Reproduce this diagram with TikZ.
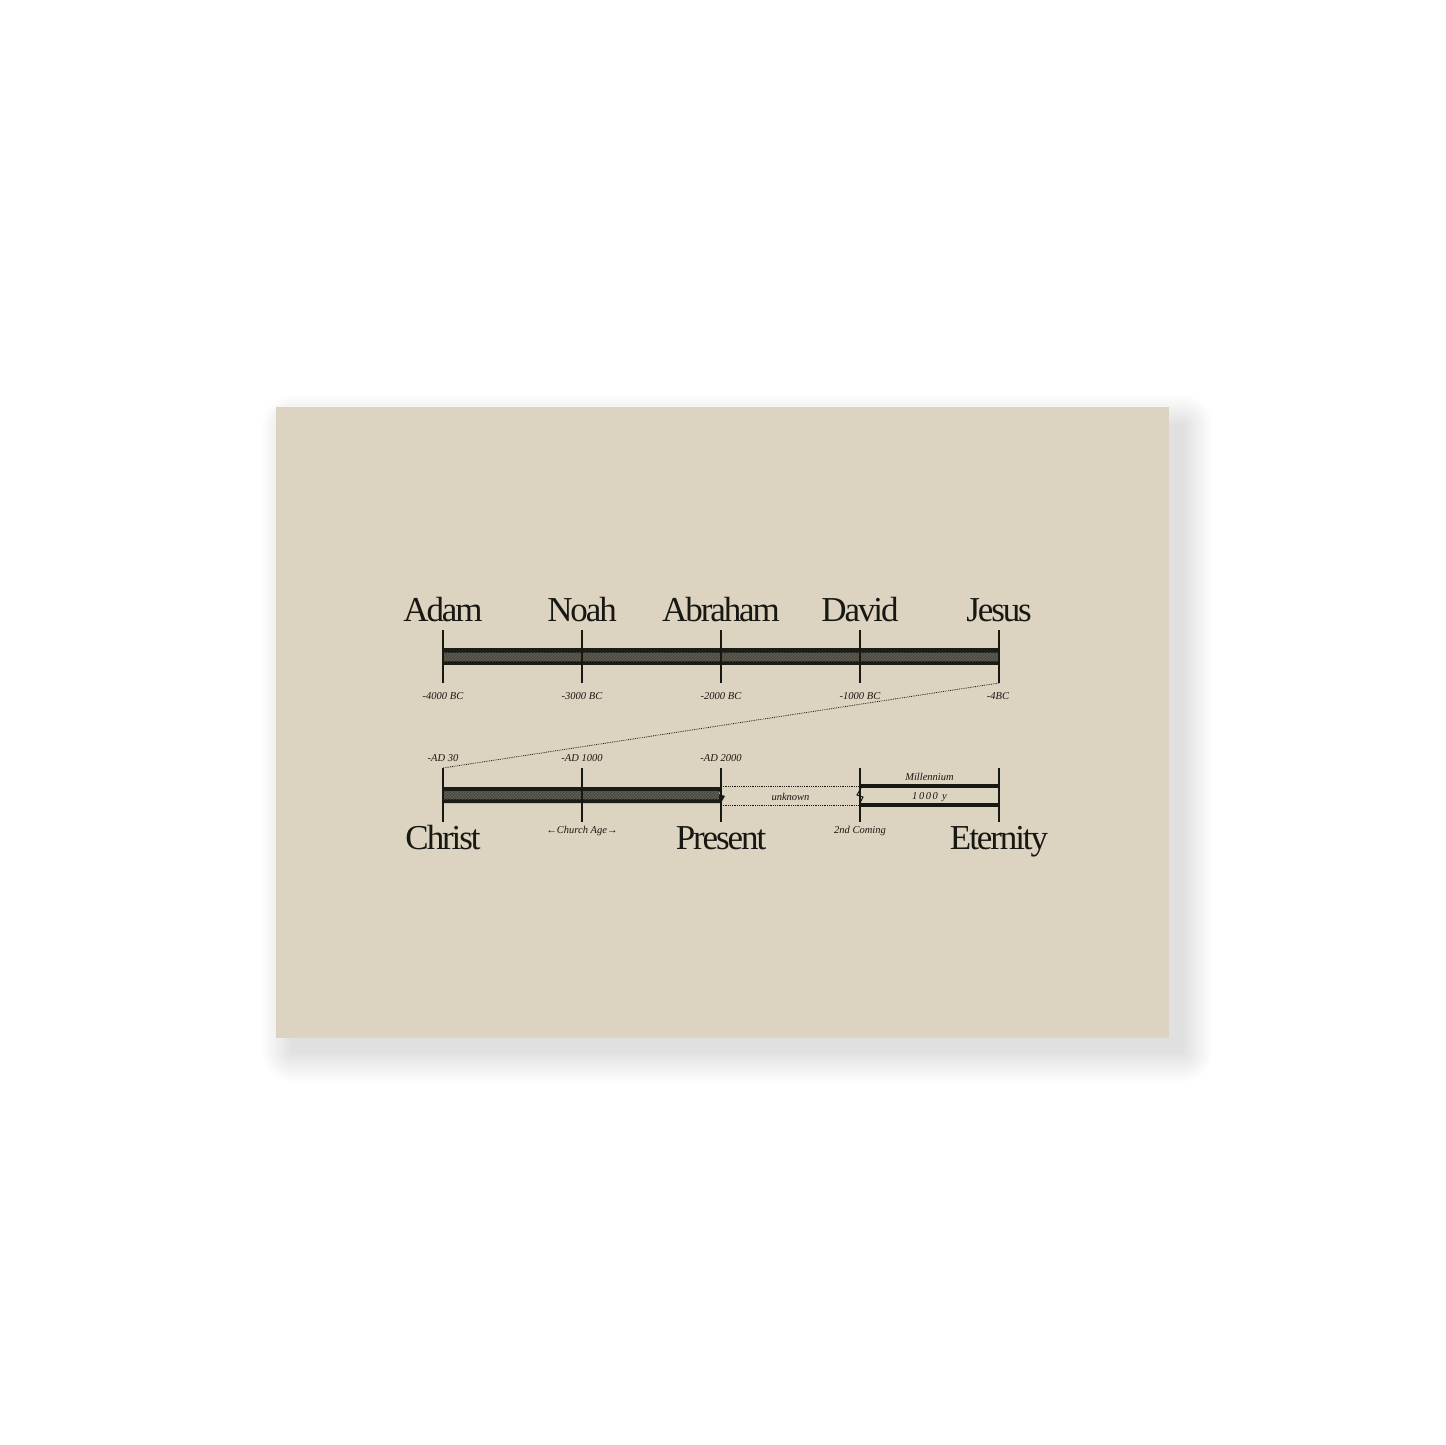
\documentclass[tikz,border=0pt]{standalone}
\usepackage{fontspec}
\setmainfont{Liberation Serif}
\newfontfamily\bigfont[LetterSpace=-6]{Liberation Serif}
\newfontfamily\wideit[LetterSpace=15]{Liberation Serif}
\usetikzlibrary{patterns}
\definecolor{card}{RGB}{220,211,192}
\definecolor{ink}{RGB}{24,24,18}
\definecolor{bardark}{RGB}{28,28,22}
\definecolor{barmid}{RGB}{74,74,64}
\definecolor{barlight}{RGB}{120,120,105}
\tikzset{
  big/.style={font=\bigfont\fontsize{35}{35}\selectfont, text=ink, anchor=base, inner sep=0},
  small/.style={font=\fontsize{10.5}{12}\selectfont\itshape, text=ink, anchor=base, inner sep=0},
  tick/.style={draw=ink, line width=1.8pt},
  dots/.style={draw=ink, line width=0.8pt, densely dotted},
  rail/.style={draw=ink, line width=3.5pt},
}
\begin{document}
\begin{tikzpicture}[x=1pt,y=-1pt]
\useasboundingbox (0,0) rectangle (1445,1445);
\fill[white] (0,0) rectangle (1445,1445);
% shadow
\foreach \i in {0,...,30}{
  \fill[black,opacity=0.0035,rounded corners=\i pt] (292-\i,425-\i) rectangle (1183+\i,1052+\i);
}
% card
\fill[card] (276,407) rectangle (1169,1038);

% ---------- top timeline ----------
\foreach \n/\x in {a/443,b/582,c/721,d/860,e/999}{
  \coordinate (T\n1) at (\x,630);
  \coordinate (T\n2) at (\x,683);
}
\fill[bardark] (443,648) rectangle (999,665);
\fill[barmid] (443,652.5) rectangle (999,661);
\fill[pattern=north east lines, pattern color=barlight, opacity=0.6] (443,652.5) rectangle (999,661);
\foreach \n in {a,b,c,d,e}{ \draw[tick] (T\n1) -- (T\n2); }

\node[big] (adam) at (443,621) {Adam};
\node[big] (noah) at (582,621) {Noah};
\node[big] (abraham) at (721,621) {Abraham};
\node[big] (david) at (860,621) {David};
\node[big] (jesus) at (999,621) {Jesus};

\node[small] (d1) at (443,699) {-4000 BC};
\node[small] (d2) at (582,699) {-3000 BC};
\node[small] (d3) at (721,699) {-2000 BC};
\node[small] (d4) at (860,699) {-1000 BC};
\node[small] (d5) at (998,699) {-4BC};

% ---------- bottom timeline ----------
\foreach \n/\x in {a/443,b/582,c/721,d/860,e/999}{
  \coordinate (B\n1) at (\x,768);
  \coordinate (B\n2) at (\x,822);
}
\draw[dots] (Te2) -- (Ba1);

\fill[bardark] (443,787) -- (721,787) -- (719,794) -- (725,796) -- (721,803) -- (443,803) -- cycle;
\fill[barmid] (443,791) rectangle (719,799);
\fill[pattern=north east lines, pattern color=barlight, opacity=0.6] (443,791) rectangle (719,799);

\coordinate (u1) at (721,786); \coordinate (u2) at (860,786);
\coordinate (u3) at (721,805); \coordinate (u4) at (860,805);
\draw[dots] (u1) -- (u2);
\draw[dots] (u3) -- (u4);
\coordinate (m1) at (860,786); \coordinate (m2) at (999,786);
\coordinate (m3) at (860,805); \coordinate (m4) at (999,805);
\draw[rail] (m1) -- (m2);
\draw[rail] (m3) -- (m4);
\fill[card] (857,789) rectangle (859,802);
\draw[ink, line width=1pt] (861,788) -- (857,795) -- (863,797) -- (860,803);

\foreach \n in {a,b,c,d,e}{ \draw[tick] (B\n1) -- (B\n2); }

\node[small] (ad30) at (443,761) {-AD 30};
\node[small] (ad1000) at (582,761) {-AD 1000};
\node[small] (ad2000) at (721,761) {-AD 2000};
\node[small] (mill) at (929.5,780) {Millennium};
\node[small, font=\wideit\fontsize{10.5}{12}\selectfont\itshape] (y1000) at (929.5,799) {1000 y};
\node[small] (unk) at (790.5,800) {unknown};
\node[small] (church) at (582,833) {←Church Age→};
\node[small] (coming) at (860,833) {2nd Coming};

\node[big] (christ) at (443,849) {Christ};
\node[big] (present) at (721,849) {Present};
\node[big] (eternity) at (999,849) {Eternity};
\end{tikzpicture}
\end{document}
